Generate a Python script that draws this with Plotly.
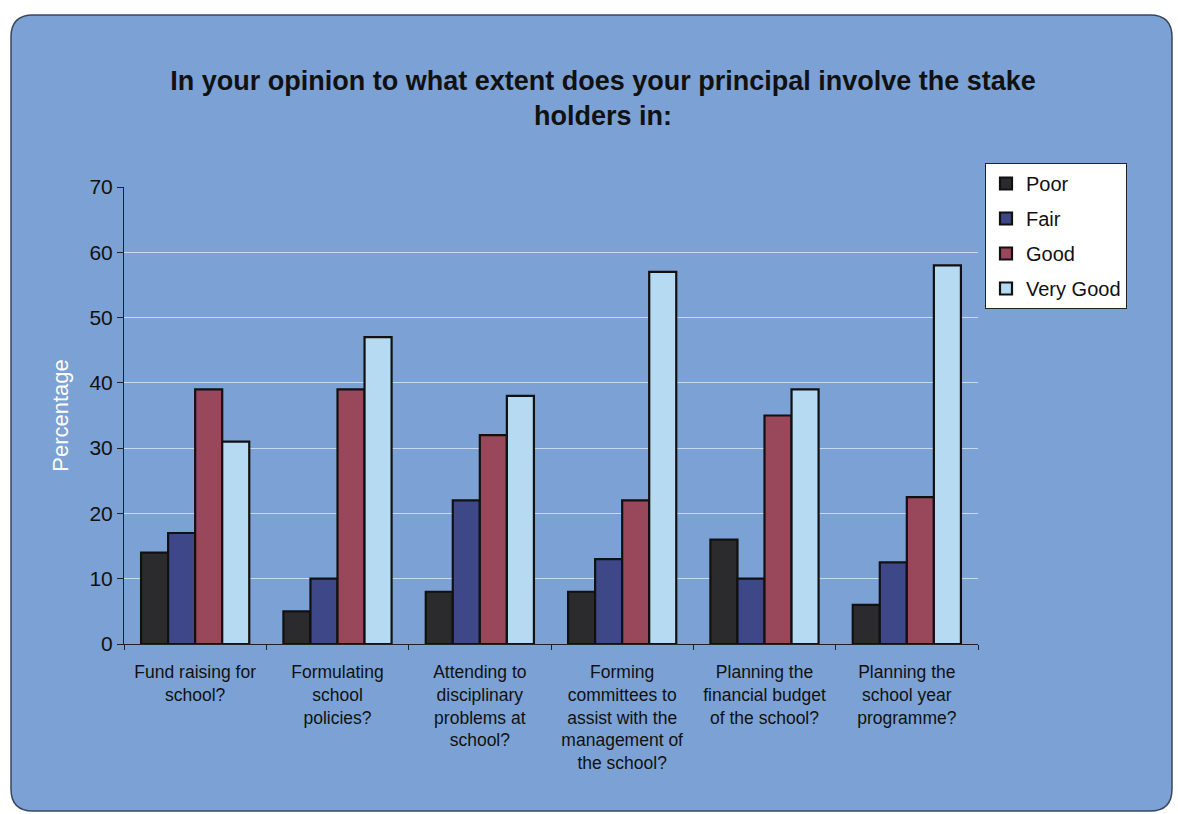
import plotly.graph_objects as go

categories = [
    "Fund raising for<br>school?",
    "Formulating<br>school<br>policies?",
    "Attending to<br>disciplinary<br>problems at<br>school?",
    "Forming<br>committees to<br>assist with the<br>management of<br>the school?",
    "Planning the<br>financial budget<br>of the school?",
    "Planning the<br>school year<br>programme?",
]
poor = [14, 5, 8, 8, 16, 6]
fair = [17, 10, 22, 13, 10, 12.5]
good = [39, 39, 32, 22, 35, 22.5]
very_good = [31, 47, 38, 57, 39, 58]

series = [
    ("Poor", poor, "#2b2b2e"),
    ("Fair", fair, "#3e4888"),
    ("Good", good, "#98485a"),
    ("Very Good", very_good, "#b6daf2"),
]

W, H = 1178, 814
L, R, T, B = 124, 200, 187, 170
pw, ph = W - L - R, H - T - B

fig = go.Figure()
for name, vals, col in series:
    fig.add_trace(go.Bar(
        name=name, x=categories, y=vals, legendgroup=name,
        marker=dict(color=col, line=dict(color="#111111", width=2.2)),
    ))

def px2x(px):
    return (px - L) / pw

def py2y(py):
    return (H - B - py) / ph

x0, x1, y0, y1, r = 11, 1172, 15, 811, 22
path = (
    f"M {px2x(x0 + r)},{py2y(y0)} L {px2x(x1 - r)},{py2y(y0)} "
    f"Q {px2x(x1)},{py2y(y0)} {px2x(x1)},{py2y(y0 + r)} "
    f"L {px2x(x1)},{py2y(y1 - r)} Q {px2x(x1)},{py2y(y1)} {px2x(x1 - r)},{py2y(y1)} "
    f"L {px2x(x0 + r)},{py2y(y1)} Q {px2x(x0)},{py2y(y1)} {px2x(x0)},{py2y(y1 - r)} "
    f"L {px2x(x0)},{py2y(y0 + r)} Q {px2x(x0)},{py2y(y0)} {px2x(x0 + r)},{py2y(y0)} Z"
)

fig.update_layout(
    width=W, height=H,
    margin=dict(l=L, r=R, t=T, b=B, autoexpand=False),
    paper_bgcolor="white",
    plot_bgcolor="rgba(0,0,0,0)",
    font=dict(family="Liberation Sans, Arial, sans-serif", color="#111111"),
    title=dict(
        text="<b>In your opinion to what extent does your principal involve the stake<br>holders in:</b>",
        x=603 / W, xref="container", xanchor="center", y=1 - 90 / H, yref="container", yanchor="middle",
        font=dict(size=27, color="#111111"),
    ),
    barmode="group", bargap=0.24, bargroupgap=0,
    shapes=[dict(type="path", path=path, xref="paper", yref="paper",
                 fillcolor="#7ca1d4", line=dict(color="#3a4660", width=1.5), layer="below")],
    legend=dict(
        x=px2x(985), y=py2y(163), xanchor="left", yanchor="top",
        bgcolor="white", bordercolor="#222222", borderwidth=1,
        font=dict(size=20, color="#111111"),
        itemwidth=30, traceorder="grouped", tracegroupgap=6,
    ),
    yaxis=dict(
        range=[0, 70], dtick=10, showgrid=True, gridcolor="#c9d9ef", gridwidth=1,
        showline=True, linecolor="#222222", linewidth=1,
        ticks="outside", ticklen=6, tickcolor="#222222",
        tickfont=dict(size=21, color="#111111"),
        title=dict(text="Percentage", font=dict(size=22, color="white"), standoff=14),
        zeroline=False,
    ),
    xaxis=dict(
        showline=True, linecolor="#222222", linewidth=1,
        ticks="outside", ticklen=5, tickcolor="#222222", tickson="boundaries",
        tickfont=dict(size=17.5, color="#111111"), tickangle=0,
        ticklabelstandoff=12,
    ),
)

fig.write_html("out.html")
